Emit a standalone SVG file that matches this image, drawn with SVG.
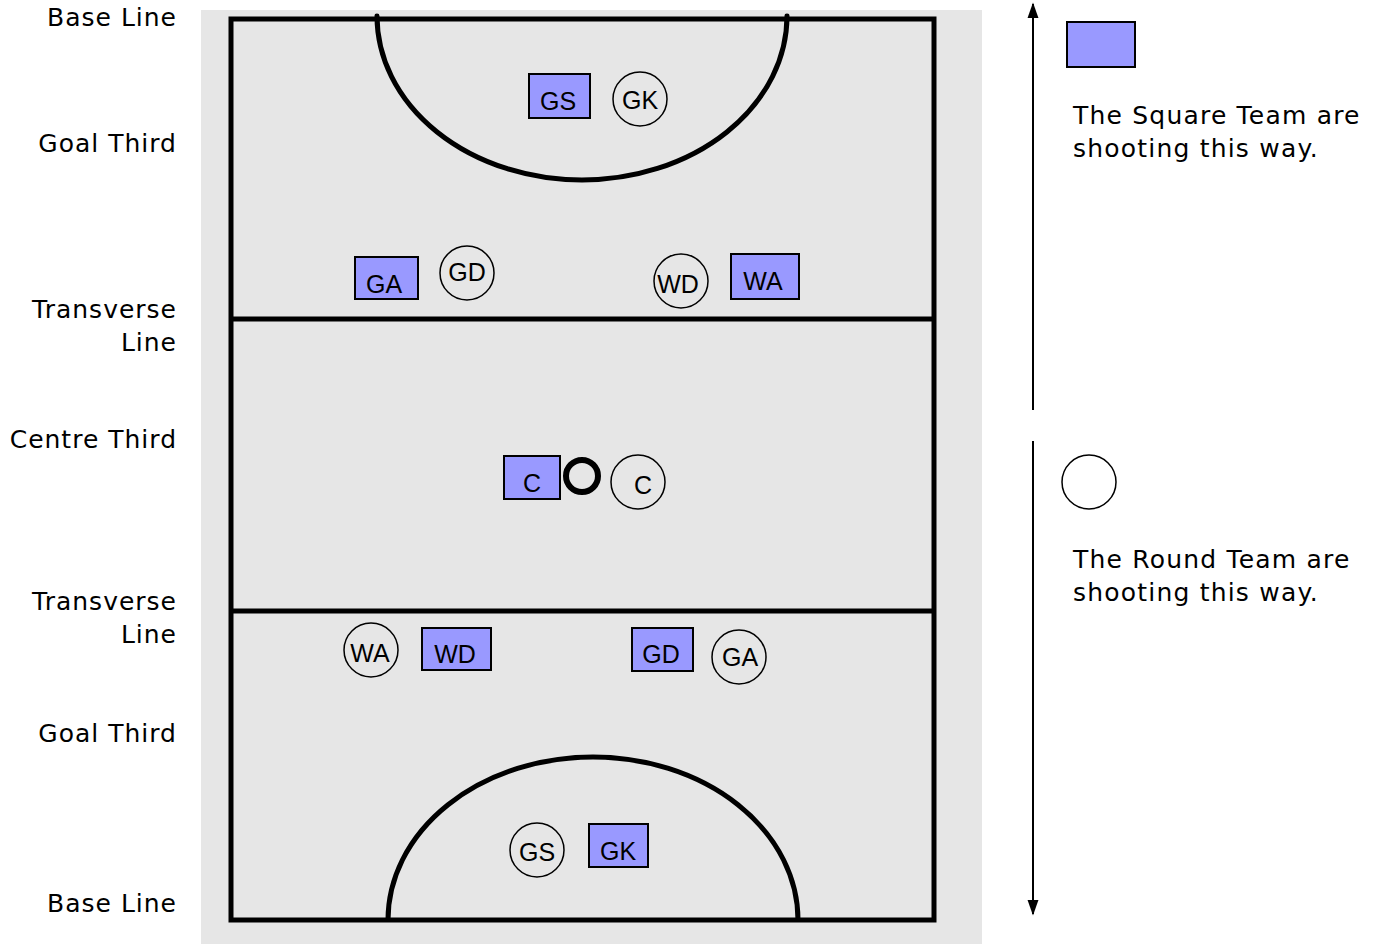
<svg xmlns="http://www.w3.org/2000/svg" width="1375" height="944" viewBox="0 0 1375 944">
<defs>
<style>
.lbl{font-family:"DejaVu Sans",Verdana,sans-serif;font-size:25px;fill:#000;text-anchor:end;letter-spacing:1px}
.leg{font-family:"DejaVu Sans",Verdana,sans-serif;font-size:25px;fill:#000;letter-spacing:1.2px}
.sq{fill:#9999ff;stroke:#000;stroke-width:2}
.rd{fill:none;stroke:#000;stroke-width:1.5}
.nt{font-family:"Liberation Sans",Arial,sans-serif;font-size:25px;fill:#000;text-anchor:middle}
.court{fill:none;stroke:#000;stroke-width:5}
</style>
<marker id="ah2" viewBox="0 0 10 10" refX="9" refY="5" markerWidth="16" markerHeight="16" markerUnits="userSpaceOnUse" orient="auto"><path d="M0,1.5 L10,5 L0,8.5 z" fill="#000"/></marker>
</defs>
<rect x="0" y="0" width="1375" height="944" fill="#fff"/>
<g id="court">
<rect x="201" y="10" width="781" height="934" fill="#e6e6e6"/>
<rect class="court" x="231" y="19" width="703" height="901"/>
<line class="court" x1="231" y1="319" x2="934" y2="319"/>
<line class="court" x1="231" y1="611" x2="934" y2="611"/>
<path class="court" stroke-linecap="round" d="M377,16 A205,164 0 0 0 787,16"/>
<path class="court" d="M388,920 A205,163 0 0 1 798,920"/>
<circle cx="582" cy="476" r="16" fill="none" stroke="#000" stroke-width="6"/>
</g>
<g id="labels">
<text class="lbl" x="177" y="26">Base Line</text>
<text class="lbl" x="177" y="152">Goal Third</text>
<text class="lbl" x="177" y="318">Transverse</text>
<text class="lbl" x="177" y="351">Line</text>
<text class="lbl" x="177" y="448">Centre Third</text>
<text class="lbl" x="177" y="610">Transverse</text>
<text class="lbl" x="177" y="643">Line</text>
<text class="lbl" x="177" y="742">Goal Third</text>
<text class="lbl" x="177" y="912">Base Line</text>
</g>
<g id="sq-GS"><rect class="sq" x="529" y="74" width="61" height="44"/><text class="nt" x="558" y="110">GS</text></g>
<g id="rd-GK"><circle class="rd" cx="640" cy="99" r="27"/><text class="nt" x="640" y="109">GK</text></g>
<g id="sq-GA"><rect class="sq" x="355" y="257" width="63" height="42"/><text class="nt" x="384" y="293">GA</text></g>
<g id="rd-GD"><circle class="rd" cx="467" cy="273" r="27"/><text class="nt" x="467" y="281">GD</text></g>
<g id="rd-WD"><circle class="rd" cx="681" cy="281" r="27"/><text class="nt" x="678" y="293">WD</text></g>
<g id="sq-WA"><rect class="sq" x="731" y="254" width="68" height="45"/><text class="nt" x="763" y="290">WA</text></g>
<g id="sq-C"><rect class="sq" x="504" y="456" width="56" height="43"/><text class="nt" x="532" y="492">C</text></g>
<g id="rd-C"><circle class="rd" cx="638" cy="482" r="27"/><text class="nt" x="643" y="494">C</text></g>
<g id="rd-WA"><circle class="rd" cx="371" cy="650" r="27"/><text class="nt" x="370" y="662">WA</text></g>
<g id="sq-WD"><rect class="sq" x="422" y="628" width="69" height="42"/><text class="nt" x="455" y="663">WD</text></g>
<g id="sq-GD"><rect class="sq" x="632" y="628" width="61" height="43"/><text class="nt" x="661" y="663">GD</text></g>
<g id="rd-GA"><circle class="rd" cx="739" cy="657" r="27"/><text class="nt" x="740" y="666">GA</text></g>
<g id="rd-GS"><circle class="rd" cx="537" cy="850" r="27"/><text class="nt" x="537" y="861">GS</text></g>
<g id="sq-GK"><rect class="sq" x="589" y="824" width="59" height="43"/><text class="nt" x="618" y="860">GK</text></g>
<g id="connectors">
<line x1="1033" y1="410" x2="1033" y2="4" stroke="#000" stroke-width="2" marker-end="url(#ah2)"/>
<line x1="1033" y1="441" x2="1033" y2="914" stroke="#000" stroke-width="2" marker-end="url(#ah2)"/>
</g>
<g id="legend-square">
<rect class="sq" x="1067" y="22" width="68" height="45"/>
<text class="leg" x="1073" y="124">The Square Team are</text>
<text class="leg" x="1073" y="157">shooting this way.</text>
</g>
<g id="legend-round">
<circle class="rd" cx="1089" cy="482" r="27"/>
<text class="leg" x="1073" y="568">The Round Team are</text>
<text class="leg" x="1073" y="601">shooting this way.</text>
</g>
</svg>
